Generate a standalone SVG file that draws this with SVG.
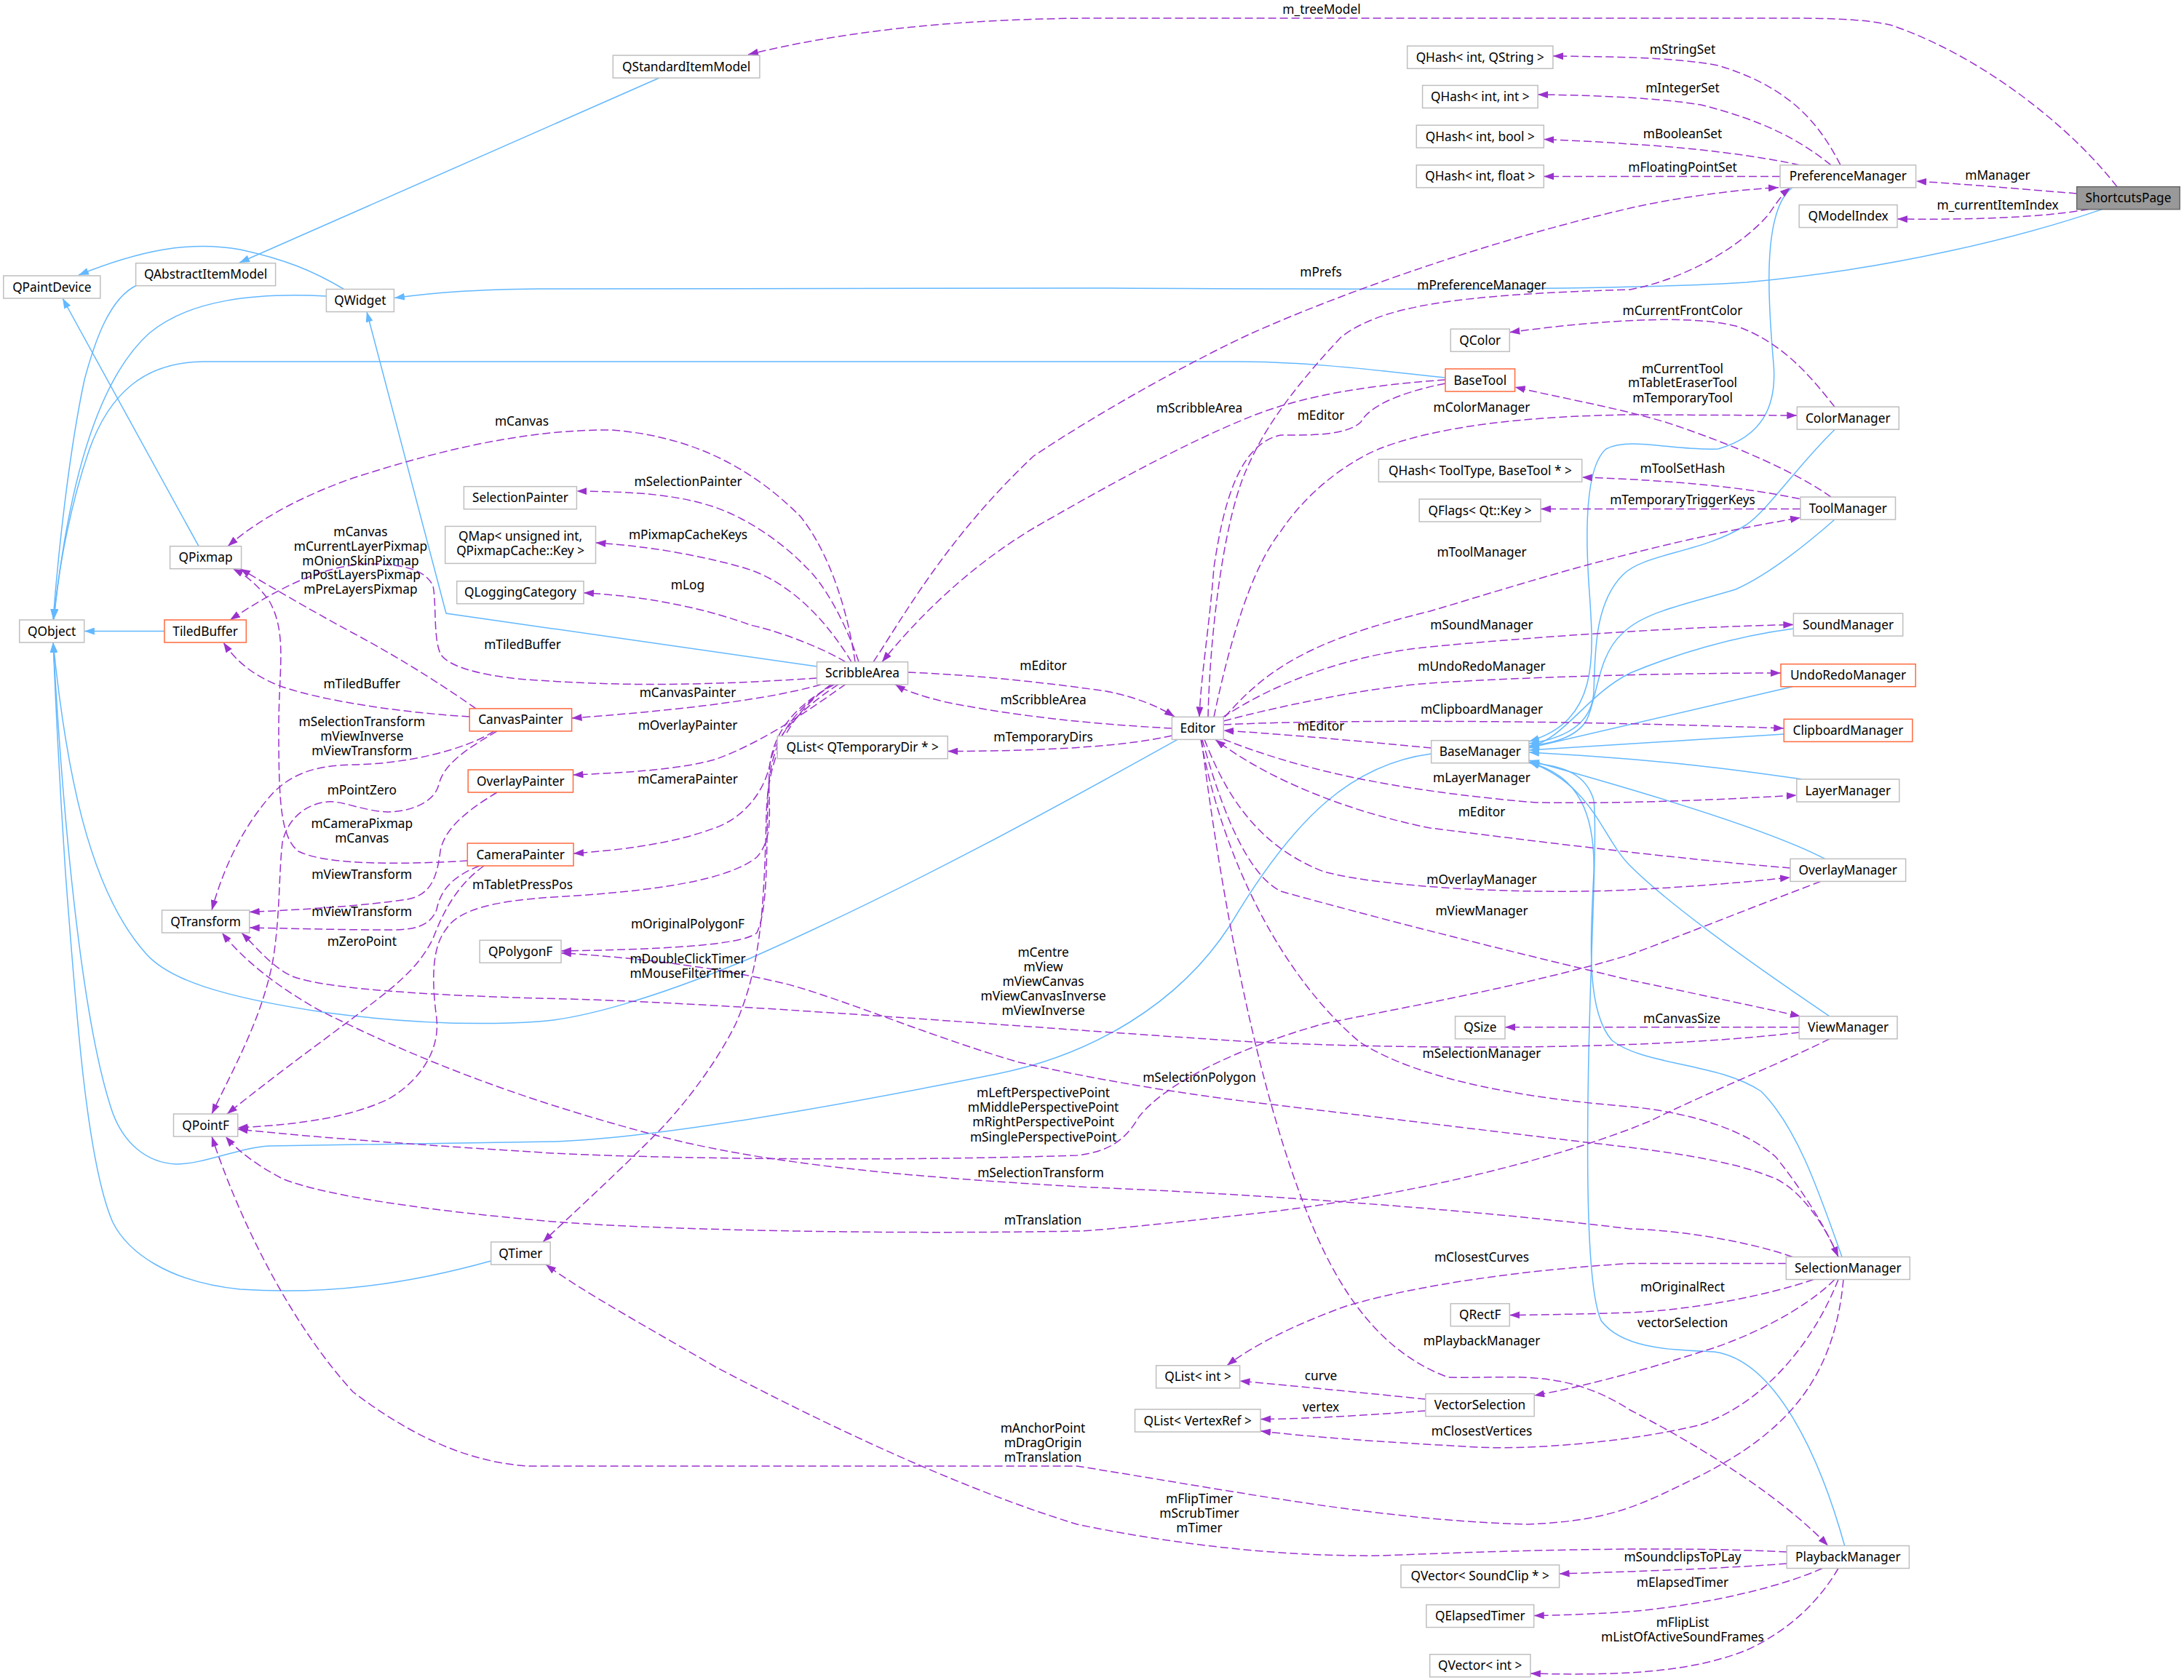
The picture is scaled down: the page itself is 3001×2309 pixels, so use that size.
<svg xmlns="http://www.w3.org/2000/svg" width="3001" height="2309" viewBox="0 0 3001 2309">
<style>
text{font-family:"Noto Sans","Open Sans","DejaVu Sans",sans-serif;font-size:17.3px;fill:#000;text-anchor:middle}
.n rect{fill:#fff;stroke:#bfbfbf;stroke-width:1.5}
.t rect{stroke:#ff6a3d}
.s rect{fill:#999;stroke:#666}
.inh{fill:none;stroke:#63b8ff;stroke-width:1.5;marker-end:url(#ab)}
.use{fill:none;stroke:#9a32cd;stroke-width:1.5;stroke-dasharray:11,5;marker-end:url(#ap)}
</style>
<defs>
<marker id="ap" viewBox="0 0 14 10" refX="14" refY="5" markerWidth="14" markerHeight="10" markerUnits="userSpaceOnUse" orient="auto"><path d="M0,0 L14,5 L0,10 z" fill="#9a32cd"/></marker>
<marker id="ab" viewBox="0 0 14 10" refX="14" refY="5" markerWidth="14" markerHeight="10" markerUnits="userSpaceOnUse" orient="auto"><path d="M0,0 L14,5 L0,10 z" fill="#63b8ff"/></marker>
</defs>
<rect width="3001" height="2309" fill="#fff"/>
<g id="connectors">
<path class="inh" d="M906,107 L329,361"/>
<path class="inh" d="M188,392 C150,410 130,470 116,522 C95,620 80,760 73,851"/>
<path class="inh" d="M472.6,397.5 C430,372 390,356 330,343 C260,330 190,345 108,378"/>
<path class="inh" d="M448.4,407 C350,402 260,412 205,458 C125,530 90,700 74,851"/>
<path class="inh" d="M2888.6,287.6 C2780,325 2600,370 2400,388 C2200,401 1800,397 1500,396 L740,397 C650,398 600,402 542,409.5"/>
<path class="inh" d="M1986,519 C1900,510 1800,497 1700,497 L280,497 C200,497 150,540 122,620 C98,690 80,780 74,851"/>
<path class="inh" d="M273,750.7 L86,410"/>
<path class="inh" d="M1122.5,916 L613,843 L504,428.5"/>
<path class="inh" d="M225.9,867.5 L115.9,867.5"/>
<path class="inh" d="M1618,1016.4 C1450,1110 1250,1220 1031,1317 C900,1372 800,1400 740,1404 C650,1410 550,1405 450,1392 C300,1370 230,1345 200,1310 C120,1220 90,1050 73,883"/>
<path class="inh" d="M1966.7,1036 C1860,1050 1780,1120 1690,1272 C1620,1380 1500,1450 1370,1476 C1150,1520 900,1565 760,1569 L370,1575 C330,1577 280,1600 242,1600 C200,1598 170,1570 155,1530 C110,1400 85,1100 73,883"/>
<path class="inh" d="M674.7,1733 C560,1765 450,1780 330,1772 C230,1762 175,1720 155,1680 C120,1600 105,1400 90,1200 C82,1080 77,980 73,883"/>
<path class="inh" d="M2463,257.7 C2420,290 2430,420 2437,500 C2442,560 2420,600 2361,617 C2300,620 2240,600 2207,617 C2180,640 2178,720 2183,800 C2190,900 2200,990 2101,1019"/>
<path class="inh" d="M2521,590.5 C2470,640 2430,700 2400,721 C2340,760 2260,760 2230,790 C2190,830 2192,900 2190,950 C2188,995 2150,1015 2101,1022"/>
<path class="inh" d="M2521,714 C2480,750 2430,790 2385,810 C2320,830 2260,840 2230,870 C2195,900 2195,960 2180,990 C2165,1015 2130,1022 2101,1025"/>
<path class="inh" d="M2464.4,864 C2380,875 2300,900 2240,925 C2180,955 2150,1015 2101,1027"/>
<path class="inh" d="M2463,943.7 L2101,1028"/>
<path class="inh" d="M2451.3,1009 L2101,1031"/>
<path class="inh" d="M2476,1071 C2400,1060 2300,1045 2101,1034"/>
<path class="inh" d="M2507.6,1180.4 C2440,1145 2300,1100 2101,1045"/>
<path class="inh" d="M2514,1396.8 C2430,1340 2300,1250 2240,1190 C2200,1150 2190,1080 2101,1047"/>
<path class="inh" d="M2531,1727.5 C2500,1640 2470,1550 2420,1500 C2360,1460 2260,1465 2215,1430 C2180,1390 2185,1300 2190,1200 C2192,1120 2170,1065 2101,1048"/>
<path class="inh" d="M2534.7,2124.5 C2500,2000 2440,1870 2356,1858 C2300,1855 2230,1855 2200,1815 C2180,1770 2180,1600 2183,1450 C2186,1300 2195,1150 2190,1100 C2180,1065 2150,1052 2101,1048.6"/>

<path class="use" d="M2909,256.7 C2850,180 2730,80 2600,35 C2560,25 2500,25 2450,25 L1500,25 C1300,26 1150,45 1028,75"/>
<text x="1816" y="19">m_treeModel</text>
<path class="use" d="M2853.7,266 C2780,260 2700,253 2633,249"/>
<text x="2745" y="247.3">mManager</text>
<path class="use" d="M2870,287.6 C2800,300 2700,302 2607,301"/>
<text x="2745" y="288">m_currentItemIndex</text>
<path class="use" d="M2529,226.9 C2500,170 2460,120 2361,90 C2300,78 2200,78 2134,77"/>
<text x="2312" y="73.7">mStringSet</text>
<path class="use" d="M2516,226.9 C2470,190 2420,165 2337,144 C2280,135 2200,131 2113,130"/>
<text x="2312" y="127">mIntegerSet</text>
<path class="use" d="M2473,226.9 C2420,215 2330,203 2240,198 C2200,195 2160,193 2121.3,191.5"/>
<text x="2312" y="189.6">mBooleanSet</text>
<path class="use" d="M2446,242.4 L2121.3,242.4"/>
<text x="2312" y="236">mFloatingPointSet</text>
<path class="use" d="M1200,909.8 C1240,850 1300,740 1420,627 C1520,560 1650,490 1720,458 C1850,400 2050,330 2240,286 C2320,268 2400,260 2444,257.7"/>
<text x="1815" y="380">mPrefs</text>
<path class="use" d="M1660,985.4 C1662,880 1680,720 1712,647 C1740,580 1790,520 1843,463 C1900,420 2000,405 2240,398 C2330,380 2400,330 2430,295 C2440,280 2450,266 2460,258"/>
<text x="2036" y="397.5">mPreferenceManager</text>
<path class="use" d="M2521,559.2 C2490,520 2450,470 2385,448 C2320,432 2200,440 2074.3,456.7"/>
<text x="2312" y="433.4">mCurrentFrontColor</text>
<path class="use" d="M2516,683.1 C2470,650 2380,610 2288,580 C2220,560 2150,548 2081.6,532"/>
<text x="2312" y="512.5">mCurrentTool</text>
<text x="2312" y="532.4">mTabletEraserTool</text>
<text x="2312" y="552.8">mTemporaryTool</text>
<path class="use" d="M1986,527 C1920,540 1880,560 1870,580 C1850,600 1790,598 1760,598 C1700,610 1680,700 1668,780 C1662,860 1650,930 1648,985.4"/>
<text x="1815" y="576.6">mEditor</text>
<path class="use" d="M1668,985.4 C1690,880 1720,780 1760,730 C1800,670 1860,630 1900,615 C1980,585 2100,572 2240,570 L2469.3,571"/>
<text x="2036" y="566.2">mColorManager</text>
<path class="use" d="M1986,522 C1900,528 1800,540 1720,572 C1620,612 1500,680 1420,726 C1330,780 1260,850 1212,909.8"/>
<text x="1648" y="567.2">mScribbleArea</text>
<path class="use" d="M2472.7,685.6 C2400,670 2300,660 2173.7,656"/>
<text x="2312" y="649.8">mToolSetHash</text>
<path class="use" d="M2474,699.5 L2117,699.5"/>
<text x="2312" y="692.6">mTemporaryTriggerKeys</text>
<path class="use" d="M1683,985.4 C1740,920 1800,880 1965,840 C2100,800 2250,750 2474,711.4"/>
<text x="2036" y="764.7">mToolManager</text>
<path class="use" d="M1680,986 C1750,940 1850,900 1965,889 C2100,876 2300,862 2464.4,858.5"/>
<text x="2036" y="864.5">mSoundManager</text>
<path class="use" d="M1681.2,991 C1760,970 1880,945 1965,939 C2100,930 2300,925 2447,925"/>
<text x="2036" y="921.7">mUndoRedoManager</text>
<path class="use" d="M1681.2,996 C1800,990 2100,988 2451.3,1001"/>
<text x="2036" y="981.4">mClipboardManager</text>
<path class="use" d="M1966.7,1028 C1880,1020 1780,1010 1681.2,1004"/>
<text x="1815" y="1004.3">mEditor</text>
<path class="use" d="M1681.2,1016 C1780,1055 1900,1085 2110,1103 C2250,1105 2380,1098 2468.8,1093"/>
<text x="2036" y="1075">mLayerManager</text>
<path class="use" d="M2460,1193 C2300,1180 2100,1155 1965,1138 C1850,1115 1740,1070 1670,1016.4"/>
<text x="2036" y="1121.7">mEditor</text>
<path class="use" d="M1655,1016.4 C1680,1080 1720,1160 1819,1198 C1900,1220 2100,1230 2240,1223 C2340,1218 2400,1212 2460,1206"/>
<text x="2036" y="1215.3">mOverlayManager</text>
<path class="use" d="M1652,1016.4 C1675,1100 1710,1200 1760,1225 C1850,1250 2000,1290 2240,1347 C2350,1370 2420,1385 2474,1396.8"/>
<text x="2036" y="1257.5">mViewManager</text>
<path class="use" d="M2472.2,1411.7 L2068,1411.7"/>
<text x="2311" y="1405.8">mCanvasSize</text>
<path class="use" d="M2472.2,1419 C2300,1440 2000,1445 1722,1432 C1400,1412 1000,1377 740,1372 C600,1368 450,1360 402,1342 C375,1330 355,1305 332,1282"/>
<text x="1433.6" y="1315.3">mCentre</text>
<text x="1433.6" y="1335.2">mView</text>
<text x="1433.6" y="1355.2">mViewCanvas</text>
<text x="1433.6" y="1375">mViewCanvasInverse</text>
<text x="1433.6" y="1395">mViewInverse</text>
<path class="use" d="M1650,1016.4 C1680,1180 1760,1340 1868,1432 C1950,1485 2100,1510 2240,1521 C2330,1530 2400,1555 2440,1590 C2480,1640 2510,1690 2526,1727.5"/>
<text x="2036" y="1454.1">mSelectionManager</text>
<path class="use" d="M1651,1016.4 C1680,1250 1730,1500 1795,1664 C1840,1780 1900,1860 1990,1893 C2080,1895 2150,1880 2240,1938 C2350,1995 2450,2060 2512,2124.5"/>
<text x="2036" y="1848.9">mPlaybackManager</text>
<path class="use" d="M2502,1211.4 C2400,1250 2300,1290 2240,1312 C2100,1355 1900,1390 1819,1407 C1700,1440 1600,1490 1565,1535 C1545,1570 1520,1583 1480,1588 C1200,1597 900,1592 760,1585 C600,1575 450,1565 326.7,1552"/>
<text x="1433.6" y="1508.3">mLeftPerspectivePoint</text>
<text x="1433.6" y="1528.2">mMiddlePerspectivePoint</text>
<text x="1433.6" y="1548.4">mRightPerspectivePoint</text>
<text x="1433.6" y="1568.8">mSinglePerspectivePoint</text>
<path class="use" d="M2526,1727.5 C2510,1690 2480,1640 2440,1620 C2380,1595 2300,1585 2240,1577 C2050,1555 1850,1530 1722,1515 C1600,1500 1500,1482 1400,1460 C1280,1425 1150,1370 1079,1352 C1000,1333 900,1318 771,1309.7"/>
<text x="1648" y="1487">mSelectionPolygon</text>
<path class="use" d="M2463,1727.5 C2400,1705 2300,1690 2240,1689 C2000,1660 1700,1640 1500,1632 C1250,1618 1050,1600 900,1560 C750,1520 600,1470 436,1387 C380,1355 335,1320 305,1282"/>
<text x="1430" y="1617.6">mSelectionTransform</text>
<path class="use" d="M2514,1427.8 C2450,1460 2350,1500 2269,1540 C2150,1590 1950,1640 1750,1665 C1600,1682 1500,1692 1480,1692 C1200,1697 900,1690 760,1679 C600,1665 450,1645 388,1620 C350,1600 325,1580 310,1562"/>
<text x="1433" y="1683.3">mTranslation</text>
<path class="use" d="M2454.3,1736.5 L2240,1736.5 C2100,1745 1950,1765 1850,1795 C1780,1820 1720,1850 1686,1876.8"/>
<text x="2036" y="1734">mClosestCurves</text>
<path class="use" d="M2492,1758.5 C2430,1780 2330,1800 2240,1804 C2180,1806 2120,1807 2074.3,1807.6"/>
<text x="2312" y="1775.3">mOriginalRect</text>
<path class="use" d="M2521,1758.5 C2480,1800 2400,1840 2337,1858 C2270,1880 2180,1905 2108.2,1918"/>
<text x="2312" y="1823.6">vectorSelection</text>
<path class="use" d="M2526,1758.5 C2490,1850 2420,1930 2337,1958 C2250,1980 2100,1995 2013,1988 C1900,1982 1800,1975 1732,1966.8"/>
<text x="2036" y="1972.8">mClosestVertices</text>
<path class="use" d="M2533,1758.5 C2520,1900 2450,1970 2337,2028 C2260,2065 2220,2090 2100,2095 C1900,2090 1700,2050 1480,2015 L727,2015 C640,2010 560,1970 485,1913 C400,1820 330,1680 291,1562"/>
<text x="1433" y="1968.8">mAnchorPoint</text>
<text x="1433" y="1988.7">mDragOrigin</text>
<text x="1433" y="2008.7">mTranslation</text>
<path class="use" d="M1958.9,1923 C1880,1915 1780,1905 1703.5,1898"/>
<text x="1815" y="1897.2">curve</text>
<path class="use" d="M1958.9,1939 C1880,1945 1800,1950 1732,1950.5"/>
<text x="1815" y="1939.5">vertex</text>
<path class="use" d="M2455.2,2133 C2300,2125 2100,2130 1900,2138 C1750,2140 1600,2120 1480,2095 C1300,2040 1100,1940 982,1878 C900,1830 800,1775 750,1738"/>
<text x="1648" y="2066.3">mFlipTimer</text>
<text x="1648" y="2086.3">mScrubTimer</text>
<text x="1648" y="2106">mTimer</text>
<path class="use" d="M2455.2,2149 C2380,2155 2250,2160 2142.6,2163"/>
<text x="2312" y="2145.5">mSoundclipsToPLay</text>
<path class="use" d="M2504,2155.5 C2450,2180 2350,2205 2240,2215 C2180,2219 2140,2220 2107.7,2220.5"/>
<text x="2312" y="2181.3">mElapsedTimer</text>
<path class="use" d="M2526,2155.5 C2500,2200 2460,2240 2400,2268 C2330,2295 2250,2304 2102.9,2300"/>
<text x="2312" y="2236">mFlipList</text>
<text x="2312" y="2256">mListOfActiveSoundFrames</text>
<path class="use" d="M1175,909.8 C1165,840 1140,760 1100,710 C1040,650 960,600 840,591 C720,590 600,620 485,657 C420,680 360,710 313,750.7"/>
<text x="717" y="584.6">mCanvas</text>
<path class="use" d="M1180,909.8 C1160,850 1130,800 1108,780 C1070,740 1020,710 982,697 C930,680 880,676 792.4,675"/>
<text x="945.5" y="667.7">mSelectionPainter</text>
<path class="use" d="M1170,909.8 C1140,860 1090,800 1021,780 C950,760 880,750 818.5,746"/>
<text x="945.5" y="740.8">mPixmapCacheKeys</text>
<path class="use" d="M1162,909.8 C1120,885 1060,865 1031,859 C980,840 900,820 802,814.7"/>
<text x="945" y="809.8">mLog</text>
<path class="use" d="M1122.5,932 C1000,940 880,945 740,935 C680,932 620,920 606,900 C595,880 600,830 595,805 C585,785 560,775 504,775 C440,778 380,810 316,852"/>
<text x="718" y="891.9">mTiledBuffer</text>
<path class="use" d="M645.2,985 C560,980 450,965 388,944 C350,930 325,910 307,883"/>
<text x="497.3" y="945.6">mTiledBuffer</text>
<path class="use" d="M654,973.9 C620,950 560,910 485,870 C420,835 370,805 330,781.7"/>
<text x="495.4" y="736.8">mCanvas</text>
<text x="495.4" y="756.7">mCurrentLayerPixmap</text>
<text x="495.4" y="776.6">mOnionSkinPixmap</text>
<text x="495.4" y="796.3">mPostLayersPixmap</text>
<text x="495.4" y="816.2">mPreLayersPixmap</text>
<path class="use" d="M642.3,1183 C560,1188 450,1190 410,1170 C385,1150 383,1100 383,1000 C383,920 395,870 370,826 C355,805 340,792 320,781.7"/>
<text x="497.3" y="1137.6">mCameraPixmap</text>
<text x="497.3" y="1157.5">mCanvas</text>
<path class="use" d="M679,1004.9 C640,1030 560,1050 485,1051 C430,1052 400,1065 375,1090 C330,1140 305,1200 291,1251"/>
<text x="497.3" y="998.3">mSelectionTransform</text>
<text x="497.3" y="1018.2">mViewInverse</text>
<text x="497.3" y="1038">mViewTransform</text>
<path class="use" d="M683,1004.9 C640,1030 610,1050 603,1078 C598,1100 570,1115 533,1116 C500,1115 470,1100 450,1102 C420,1105 395,1125 388,1158 C383,1200 385,1260 375,1320 C360,1400 320,1470 291,1531"/>
<text x="497.3" y="1092.4">mPointZero</text>
<path class="use" d="M683,1089 C640,1115 610,1140 605,1170 C600,1210 590,1230 560,1236 C500,1245 420,1250 342.7,1253.5"/>
<text x="497.3" y="1208.3">mViewTransform</text>
<path class="use" d="M659,1190 C620,1205 605,1225 600,1250 C592,1272 570,1278 540,1278 C460,1278 400,1276 342.7,1275"/>
<text x="497.3" y="1258.5">mViewTransform</text>
<path class="use" d="M665,1190 C630,1215 610,1250 595,1290 C580,1320 560,1340 533,1362 C480,1405 400,1460 312,1531"/>
<text x="497.3" y="1300.3">mZeroPoint</text>
<path class="use" d="M1127.8,941 C1060,960 950,975 785.6,987"/>
<text x="945" y="957.5">mCanvasPainter</text>
<path class="use" d="M1161.7,940.6 C1120,970 1050,1020 982,1044 C930,1058 860,1062 787.5,1065"/>
<text x="945" y="1002.8">mOverlayPainter</text>
<path class="use" d="M1152,940.6 C1100,975 1065,1010 1058,1050 C1050,1090 1020,1125 982,1138 C930,1158 860,1168 788,1173"/>
<text x="945" y="1077.4">mCameraPainter</text>
<path class="use" d="M1147,940.6 C1090,970 1060,1010 1057,1060 C1055,1110 1065,1150 1040,1178 C1000,1210 900,1225 760,1233 C680,1238 630,1250 613,1277 C595,1300 592,1340 600,1400 C605,1450 570,1490 533,1511 C480,1535 420,1545 326.7,1550"/>
<text x="718" y="1221.7">mTabletPressPos</text>
<path class="use" d="M1145,940.6 C1080,980 1056,1030 1055,1100 C1053,1180 1055,1250 1040,1282 C1020,1300 900,1305 771,1307"/>
<text x="945" y="1276">mOriginalPolygonF</text>
<path class="use" d="M1142,940.6 C1075,990 1055,1050 1053,1120 C1050,1250 1045,1330 1011,1407 C980,1470 930,1530 900,1560 C840,1620 790,1665 746,1707"/>
<text x="945" y="1324.2">mDoubleClickTimer</text>
<text x="945" y="1344">mMouseFilterTimer</text>
<path class="use" d="M1247.5,924 C1350,928 1450,940 1520,950 C1560,958 1590,970 1614,985"/>
<text x="1433.6" y="920.7">mEditor</text>
<path class="use" d="M1610.4,1001 C1500,995 1400,985 1300,965 C1270,958 1245,950 1230,940.6"/>
<text x="1433.6" y="968">mScribbleArea</text>
<path class="use" d="M1610.4,1011 C1550,1025 1450,1032 1302.3,1032.6"/>
<text x="1433.6" y="1019.2">mTemporaryDirs</text>
</g>

<g id="node-ShortcutsPage" class="n s"><rect x="2853.7" y="256.7" width="141.5" height="31"/><text x="2924.5" y="278.2">ShortcutsPage</text></g>
<g id="node-QStandardItemModel" class="n"><rect x="842.3" y="76.1" width="201.6" height="31"/><text x="943.1" y="97.6">QStandardItemModel</text></g>
<g id="node-QAbstractItemModel" class="n"><rect x="186.6" y="361.7" width="192" height="31"/><text x="282.6" y="383.2">QAbstractItemModel</text></g>
<g id="node-QPaintDevice" class="n"><rect x="4.8" y="379" width="133" height="31"/><text x="71.3" y="400.5">QPaintDevice</text></g>
<g id="node-QWidget" class="n"><rect x="448.4" y="397.5" width="93" height="31"/><text x="494.9" y="419">QWidget</text></g>
<g id="node-QObject" class="n"><rect x="26.7" y="852" width="89" height="31"/><text x="71.2" y="873.5">QObject</text></g>
<g id="node-QPixmap" class="n"><rect x="233.6" y="750.7" width="98" height="31"/><text x="282.6" y="772.2">QPixmap</text></g>
<g id="node-TiledBuffer" class="n t"><rect x="225.9" y="852" width="112.4" height="31"/><text x="282.1" y="873.5">TiledBuffer</text></g>
<g id="node-QTransform" class="n"><rect x="222.5" y="1251" width="120.2" height="31"/><text x="282.6" y="1272.5">QTransform</text></g>
<g id="node-QPointF" class="n"><rect x="238.5" y="1531" width="88.2" height="31"/><text x="282.6" y="1552.5">QPointF</text></g>
<g id="node-QTimer" class="n"><rect x="674.7" y="1707" width="81.5" height="31"/><text x="715.4" y="1728.5">QTimer</text></g>
<g id="node-SelectionPainter" class="n"><rect x="637.4" y="668.7" width="155" height="31"/><text x="714.9" y="690.2">SelectionPainter</text></g>
<g id="node-QMap" class="n"><rect x="611.7" y="723.4" width="206.8" height="51"/><text x="715.1" y="743.3">QMap&lt; unsigned int,</text><text x="715.1" y="763.2">QPixmapCache::Key &gt;</text></g>
<g id="node-QLoggingCategory" class="n"><rect x="627.7" y="798.8" width="174.3" height="31"/><text x="714.9" y="820.3">QLoggingCategory</text></g>
<g id="node-CanvasPainter" class="n t"><rect x="645.2" y="973.9" width="140.4" height="31"/><text x="715.4" y="995.4">CanvasPainter</text></g>
<g id="node-OverlayPainter" class="n t"><rect x="643.2" y="1058" width="144.3" height="31"/><text x="715.3" y="1079.5">OverlayPainter</text></g>
<g id="node-CameraPainter" class="n t"><rect x="642.3" y="1159" width="145.7" height="31"/><text x="715.1" y="1180.5">CameraPainter</text></g>
<g id="node-QPolygonF" class="n"><rect x="659.2" y="1292.3" width="111.8" height="31"/><text x="715.1" y="1313.8">QPolygonF</text></g>
<g id="node-ScribbleArea" class="n"><rect x="1122.5" y="909.8" width="125" height="31"/><text x="1185" y="931.3">ScribbleArea</text></g>
<g id="node-QListQTemporaryDir" class="n"><rect x="1068.2" y="1011.7" width="234" height="31"/><text x="1185.2" y="1033.2">QList&lt; QTemporaryDir * &gt;</text></g>
<g id="node-Editor" class="n"><rect x="1610.4" y="985.4" width="70.8" height="31"/><text x="1645.8" y="1006.9">Editor</text></g>
<g id="node-BaseManager" class="n"><rect x="1966.7" y="1017.7" width="134.2" height="31"/><text x="2033.8" y="1039.2">BaseManager</text></g>
<g id="node-QSize" class="n"><rect x="1999.6" y="1396.8" width="68.4" height="31"/><text x="2033.8" y="1418.3">QSize</text></g>
<g id="node-QHashIntQString" class="n"><rect x="1933.7" y="63.2" width="200.2" height="31"/><text x="2033.8" y="84.7">QHash&lt; int, QString &gt;</text></g>
<g id="node-QHashIntInt" class="n"><rect x="1954.6" y="117.4" width="158.5" height="31"/><text x="2033.8" y="138.9">QHash&lt; int, int &gt;</text></g>
<g id="node-QHashIntBool" class="n"><rect x="1946.3" y="172.1" width="175" height="31"/><text x="2033.8" y="193.6">QHash&lt; int, bool &gt;</text></g>
<g id="node-QHashIntFloat" class="n"><rect x="1946.3" y="226.9" width="175" height="31"/><text x="2033.8" y="248.4">QHash&lt; int, float &gt;</text></g>
<g id="node-PreferenceManager" class="n"><rect x="2446" y="226.9" width="186.6" height="31"/><text x="2539.3" y="248.4">PreferenceManager</text></g>
<g id="node-QModelIndex" class="n"><rect x="2472.2" y="281.6" width="134.8" height="31"/><text x="2539.6" y="303.1">QModelIndex</text></g>
<g id="node-QColor" class="n"><rect x="1993.3" y="452.2" width="81" height="31"/><text x="2033.8" y="473.7">QColor</text></g>
<g id="node-BaseTool" class="n t"><rect x="1986" y="507" width="95.6" height="31"/><text x="2033.8" y="528.5">BaseTool</text></g>
<g id="node-ColorManager" class="n"><rect x="2469.3" y="559.2" width="140" height="31"/><text x="2539.3" y="580.7">ColorManager</text></g>
<g id="node-QHashToolType" class="n"><rect x="1894.4" y="631.3" width="279.3" height="31"/><text x="2034" y="652.8">QHash&lt; ToolType, BaseTool * &gt;</text></g>
<g id="node-QFlagsKey" class="n"><rect x="1950.2" y="686" width="166.8" height="31"/><text x="2033.6" y="707.5">QFlags&lt; Qt::Key &gt;</text></g>
<g id="node-ToolManager" class="n"><rect x="2474" y="683.1" width="130.5" height="31"/><text x="2539.3" y="704.6">ToolManager</text></g>
<g id="node-SoundManager" class="n"><rect x="2464.4" y="843.1" width="150.3" height="31"/><text x="2539.5" y="864.6">SoundManager</text></g>
<g id="node-UndoRedoManager" class="n t"><rect x="2447" y="912.7" width="185.2" height="31"/><text x="2539.6" y="934.2">UndoRedoManager</text></g>
<g id="node-ClipboardManager" class="n t"><rect x="2451.3" y="988.4" width="176.5" height="31"/><text x="2539.5" y="1009.9">ClipboardManager</text></g>
<g id="node-LayerManager" class="n"><rect x="2468.8" y="1071" width="141" height="31"/><text x="2539.3" y="1092.5">LayerManager</text></g>
<g id="node-OverlayManager" class="n"><rect x="2460" y="1180.4" width="158.6" height="31"/><text x="2539.3" y="1201.9">OverlayManager</text></g>
<g id="node-ViewManager" class="n"><rect x="2472.2" y="1396.8" width="134.8" height="31"/><text x="2539.6" y="1418.3">ViewManager</text></g>
<g id="node-SelectionManager" class="n"><rect x="2454.3" y="1727.5" width="170" height="31"/><text x="2539.3" y="1749">SelectionManager</text></g>
<g id="node-QRectF" class="n"><rect x="1993.3" y="1791.7" width="81" height="31"/><text x="2033.8" y="1813.2">QRectF</text></g>
<g id="node-QListInt" class="n"><rect x="1588.6" y="1876.8" width="115" height="31"/><text x="1646.1" y="1898.3">QList&lt; int &gt;</text></g>
<g id="node-VectorSelection" class="n"><rect x="1958.9" y="1915.6" width="149.3" height="31"/><text x="2033.5" y="1937.1">VectorSelection</text></g>
<g id="node-QListVertexRef" class="n"><rect x="1559.5" y="1937" width="172.5" height="31"/><text x="1645.7" y="1958.5">QList&lt; VertexRef &gt;</text></g>
<g id="node-PlaybackManager" class="n"><rect x="2455.2" y="2124.5" width="168.2" height="31"/><text x="2539.3" y="2146">PlaybackManager</text></g>
<g id="node-QVectorSoundClip" class="n"><rect x="1925" y="2150.9" width="217.6" height="31"/><text x="2033.8" y="2172.4">QVector&lt; SoundClip * &gt;</text></g>
<g id="node-QElapsedTimer" class="n"><rect x="1959.9" y="2205.6" width="147.8" height="31"/><text x="2033.8" y="2227.1">QElapsedTimer</text></g>
<g id="node-QVectorInt" class="n"><rect x="1964.7" y="2273.8" width="138.2" height="31"/><text x="2033.8" y="2295.3">QVector&lt; int &gt;</text></g>
</svg>
